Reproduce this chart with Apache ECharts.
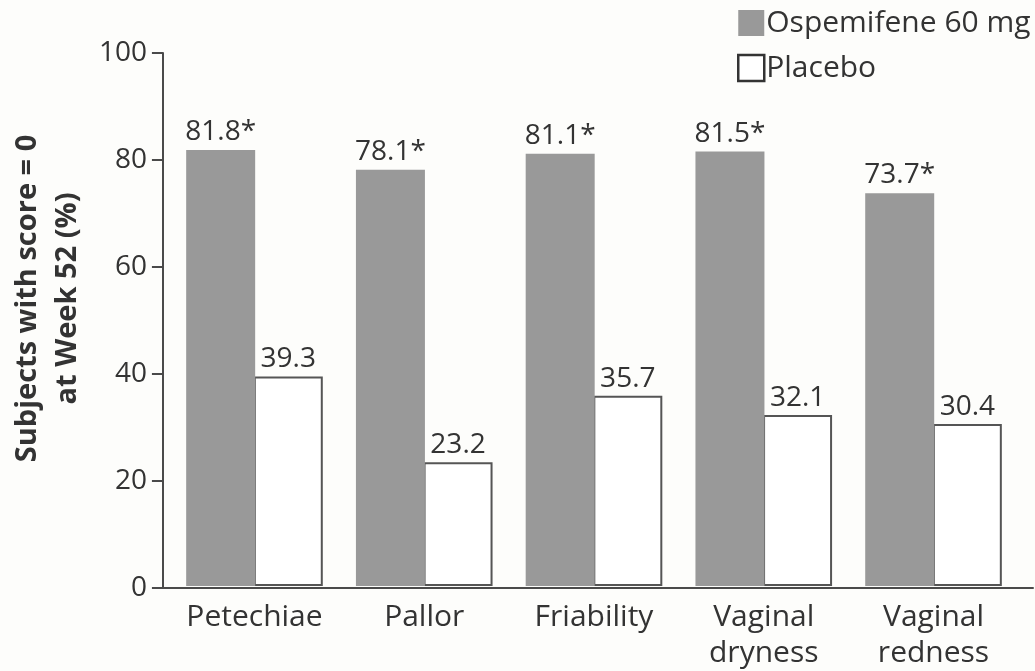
<!DOCTYPE html>
<html>
<head>
<meta charset="utf-8">
<script src="https://cdn.jsdelivr.net/npm/echarts@6/dist/echarts.min.js"></script>
<style>
  html, body { margin: 0; padding: 0; background: #fdfdfb; }
  #container { width: 1035px; height: 671px; }
</style>
</head>
<body>
<div id="container"></div>
<script>
// data
var categories = ['Petechiae', 'Pallor', 'Friability', 'Vaginal\ndryness', 'Vaginal\nredness'];
var ospemifene = [81.8, 78.1, 81.1, 81.5, 73.7];
var placebo = [39.3, 23.2, 35.7, 32.1, 30.4];
var seriesNames = ['Ospemifene 60 mg', 'Placebo'];
var yTicks = [0, 20, 40, 60, 80, 100];

var dom = document.getElementById('container');
var myChart = echarts.init(dom);
var font = '"Open Sans", "DejaVu Sans", sans-serif';
var ink = '#333';
var axisInk = '#4a4a4a';

var option = {
    backgroundColor: '#fdfdfb',
    animation: false,
    textStyle: { fontFamily: font },
    legend: {
        orient: 'vertical',
        left: 737,
        top: 8,
        padding: 0,
        itemWidth: 26,
        itemHeight: 26,
        itemGap: 15,
        icon: 'rect',
        textStyle: { fontSize: 30, color: ink, fontFamily: font, padding: [0, 0, 0, -3] },
        data: [
            { name: seriesNames[0], itemStyle: { color: '#999999', borderWidth: 0 } },
            { name: seriesNames[1], itemStyle: { color: '#ffffff', borderColor: '#333', borderWidth: 2.5 } }
        ]
    },
    grid: [
        // bars
        { left: 169.6, right: 16.6, top: 53, bottom: 83 },
        // axis frame
        { left: 150, right: 2, top: 53, bottom: 83 }
    ],
    xAxis: [
        {
            type: 'category',
            gridIndex: 0,
            data: categories,
            axisLine: { show: false },
            axisTick: { show: false },
            axisLabel: {
                fontSize: 30,
                color: ink,
                fontFamily: font,
                margin: 13,
                lineHeight: 36,
                interval: 0
            }
        },
        {
            type: 'value',
            gridIndex: 1,
            min: 0,
            max: 1,
            axisLine: { show: true, onZero: false, lineStyle: { color: axisInk, width: 2 } },
            axisTick: { show: false },
            axisLabel: { show: false },
            splitLine: { show: false }
        }
    ],
    yAxis: [
        {
            type: 'value',
            gridIndex: 0,
            min: 0,
            max: 100,
            show: false
        },
        {
            type: 'value',
            gridIndex: 1,
            min: yTicks[0],
            max: yTicks[yTicks.length - 1],
            interval: 20,
            name: 'Subjects with score = 0\nat Week 52 (%)',
            nameLocation: 'middle',
            nameGap: 68,
            nameTextStyle: {
                fontSize: 29,
                fontWeight: 'bold',
                color: ink,
                fontFamily: font,
                lineHeight: 40,
                padding: [0, 0, 0, 44]
            },
            axisLine: { show: true, lineStyle: { color: axisInk, width: 2 } },
            axisTick: { show: true, length: 11, lineStyle: { color: axisInk, width: 2 } },
            axisLabel: { fontSize: 28, color: ink, fontFamily: font, margin: 16 },
            splitLine: { show: false }
        }
    ],
    series: [
        {
            name: seriesNames[0],
            type: 'bar',
            xAxisIndex: 0,
            yAxisIndex: 0,
            barWidth: 69,
            barGap: '-2%',
            z: 3,
            itemStyle: { color: '#999999' },
            label: {
                show: true,
                position: 'top',
                distance: 4,
                formatter: '{c}*',
                fontSize: 28,
                color: ink,
                fontFamily: font
            },
            data: ospemifene
        },
        {
            name: seriesNames[1],
            type: 'bar',
            xAxisIndex: 0,
            yAxisIndex: 0,
            barWidth: 69,
            z: 2,
            itemStyle: { color: '#ffffff', borderColor: '#555', borderWidth: 2 },
            label: {
                show: true,
                position: 'top',
                distance: 3,
                formatter: '{c}',
                fontSize: 28,
                color: ink,
                fontFamily: font
            },
            data: placebo
        }
    ]
};

if (option && typeof option === 'object') {
    myChart.setOption(option, true);
}
</script>
</body>
</html>
